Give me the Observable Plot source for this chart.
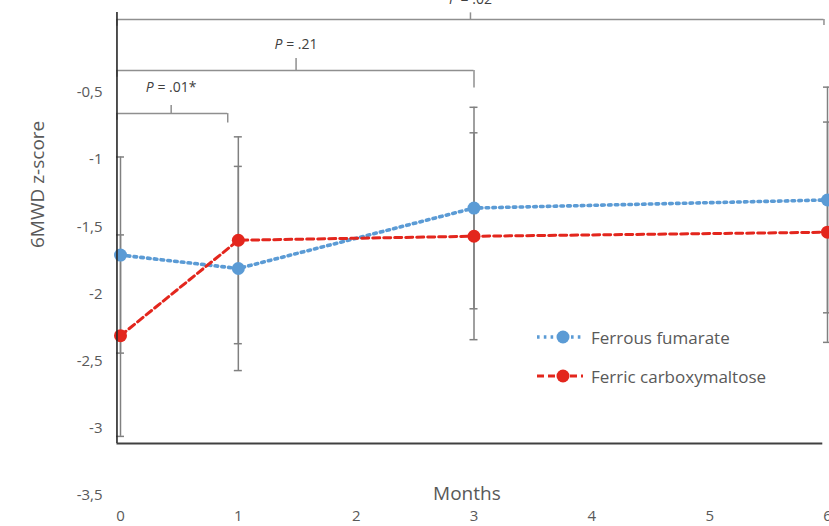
<!DOCTYPE html>
<html>
<head>
<meta charset="utf-8">
<script src="https://cdn.jsdelivr.net/npm/d3@7"></script>
<script src="https://cdn.jsdelivr.net/npm/@observablehq/plot@0.6"></script>
<style>
  html, body { margin: 0; padding: 0; background: #fff; }
  #wrap { position: relative; width: 829px; height: 526px; overflow: hidden; font-family: 'Open Sans', sans-serif; }
  .leg { position: absolute; display: flex; align-items: center; color: #595959; font-size: 17px; white-space: nowrap; }
  .leg svg { margin-right: 6px; }
</style>
</head>
<body>
<div id="wrap"></div>
<script>
// ---- data ----
const months = [0, 1, 3, 6];
const seriesNames = ["Ferrous fumarate", "Ferric carboxymaltose"];
const ferrousMean = [-1.71, -1.81, -1.36, -1.30];
const ferrousErr  = [0.73, 0.76, 0.75, 0.84];
const ferricMean  = [-2.31, -1.60, -1.57, -1.54];
const ferricErr   = [0.75, 0.77, 0.77, 0.82];
const xTicks = [0, 1, 2, 3, 4, 5, 6];
const yTicks = [-3.5, -3, -2.5, -2, -1.5, -1, -0.5];
const xLabel = "Months";
const yLabel = "6MWD z-score";
// significance brackets (in month / z-score units)
const bracketLabels = ["P = .01*", "P = .21", "P = .02"];
const bracketFrom   = [-0.03, -0.03, -0.03];
const bracketTo     = [0.91, 3.0, 5.97];
const bracketLevel  = [-0.657, -0.336, 0.043];
const bracketDrop   = [0.07, 0.13, 0.045];
const bracketMid    = [0.43, 1.49, 2.97];
const bracketRise   = [0.06, 0.09, 0.05];
const bracketTextY  = [-0.46, -0.14, 0.19];
// axis frame of the original chart
const frameLeft = -0.03, frameRight = 5.96, frameTop = 0.095, frameBottom = -3.113;

const blue = "#5B9BD5", red = "#E3261D";
const blueDash = "2.6 4.2", redDash = "7 4";

const rows = [];
months.forEach((m, i) => {
  rows.push({series: seriesNames[0], month: m, mean: ferrousMean[i], lo: ferrousMean[i] - ferrousErr[i], hi: ferrousMean[i] + ferrousErr[i]});
  rows.push({series: seriesNames[1], month: m, mean: ferricMean[i], lo: ferricMean[i] - ferricErr[i], hi: ferricMean[i] + ferricErr[i]});
});
const ferrous = rows.filter(d => d.series === seriesNames[0]);
const ferric  = rows.filter(d => d.series === seriesNames[1]);
const brackets = bracketLabels.map((label, i) => ({
  label, from: bracketFrom[i], to: bracketTo[i], level: bracketLevel[i],
  drop: bracketDrop[i], mid: bracketMid[i], rise: bracketRise[i], ty: bracketTextY[i]
}));
const cap = 0.034;
const gray = "#808080", bgray = "#8f8f8f";

const chart = Plot.plot({
  width: 829, height: 526,
  marginLeft: 120, marginRight: 2, marginTop: 0, marginBottom: 31,
  style: {fontFamily: "'Open Sans', sans-serif", fontSize: "15px", color: "#595959", background: "transparent"},
  x: {domain: [0, 6], ticks: xTicks, tickSize: 0, tickPadding: 15, label: null, tickFormat: d => String(d)},
  y: {domain: [-3.5, 0.185], ticks: yTicks, tickSize: 0, tickPadding: 18, label: null, tickFormat: d => String(d).replace(".", ",")},
  marks: [
    // brackets
    Plot.ruleY(brackets, {y: "level", x1: "from", x2: "to", stroke: bgray, strokeWidth: 1.5}),
    Plot.ruleX(brackets, {x: "to", y1: "level", y2: d => d.level - d.drop, stroke: bgray, strokeWidth: 1.5}),
    Plot.ruleX(brackets, {x: "from", y1: "level", y2: d => d.level - 0.05, stroke: bgray, strokeWidth: 1.5}),
    Plot.ruleX(brackets, {x: "mid", y1: "level", y2: d => d.level + d.rise, stroke: bgray, strokeWidth: 1.5}),
    Plot.text(brackets, {x: "mid", y: "ty", text: "label", fontSize: 14, fill: "#404040"}),
    // error bars
    Plot.ruleX(rows, {x: "month", y1: "lo", y2: "hi", stroke: gray, strokeWidth: 1.5}),
    Plot.ruleY(rows, {y: "lo", x1: d => d.month - cap, x2: d => d.month + cap, stroke: gray, strokeWidth: 1.5}),
    Plot.ruleY(rows, {y: "hi", x1: d => d.month - cap, x2: d => d.month + cap, stroke: gray, strokeWidth: 1.5}),
    // series
    Plot.line(ferrous, {x: "month", y: "mean", stroke: blue, strokeWidth: 3.6, strokeDasharray: blueDash}),
    Plot.line(ferric, {x: "month", y: "mean", stroke: red, strokeWidth: 3, strokeDasharray: redDash}),
    Plot.dot(ferrous, {x: "month", y: "mean", r: 6.5, fill: blue}),
    Plot.dot(ferric, {x: "month", y: "mean", r: 6.5, fill: red}),
    // frame lines of the original chart
    Plot.ruleX([frameLeft], {y1: frameTop, y2: frameBottom, stroke: "#262626", strokeWidth: 1.6}),
    Plot.ruleY([frameBottom], {x1: frameLeft, x2: frameRight, stroke: "#404040", strokeWidth: 1.8}),
    // axis titles
    Plot.text([xLabel], {x: () => 2.94, y: () => -3.5, dy: -2, text: d => d, fontSize: 19, fill: "#595959"}),
    Plot.text([yLabel], {frameAnchor: "left", dx: -83, rotate: -90, text: d => d, fontSize: 19, fill: "#595959"})
  ]
});

// italic P in bracket labels
d3.select(chart).selectAll("text").each(function() {
  const t = this.textContent;
  if (t && t.startsWith("P =")) {
    this.textContent = "";
    const s = d3.select(this);
    s.append("tspan").attr("font-style", "italic").text("P");
    s.append("tspan").text(t.slice(1));
  }
});

const wrap = document.getElementById("wrap");
wrap.appendChild(chart);

// legend
const legendItems = [
  {name: seriesNames[0], color: blue, dash: blueDash, sw: 3.6, top: 337},
  {name: seriesNames[1], color: red, dash: redDash, sw: 3, top: 376}
];
legendItems.forEach(it => {
  const div = document.createElement("div");
  div.className = "leg";
  div.style.left = "535px";
  div.style.top = (it.top - 12) + "px";
  div.style.height = "24px";
  div.innerHTML = `<svg width="50" height="24"><line x1="2" x2="48" y1="12" y2="12" stroke="${it.color}" stroke-width="${it.sw}" stroke-dasharray="${it.dash}"/><circle cx="28" cy="12" r="6.5" fill="${it.color}"/></svg><span>${it.name}</span>`;
  wrap.appendChild(div);
});
</script>
</body>
</html>
